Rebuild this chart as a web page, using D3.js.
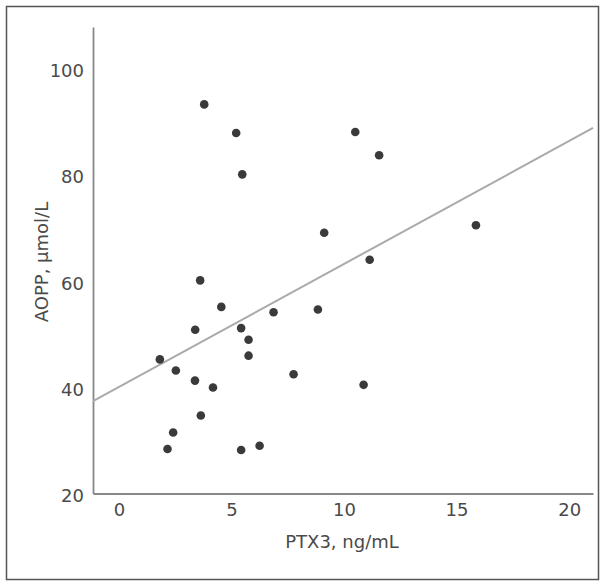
<!DOCTYPE html>
<html>
<head>
<meta charset="utf-8">
<script src="https://cdn.jsdelivr.net/npm/d3@7"></script>
<style>
  body { margin: 0; background: #fff; }
  svg { display: block; }
  text { font-family: "DejaVu Sans", sans-serif; }
</style>
</head>
<body>
<svg id="chart" width="605" height="586"></svg>
<script>
// Data
const ptx3 = [3.79, 5.21, 10.50, 11.56, 5.48, 9.12, 11.14, 3.61, 15.86, 10.87,
              4.55, 6.87, 8.84, 3.39, 5.43, 5.76, 5.76, 1.82, 2.53, 7.76,
              3.38, 4.18, 3.64, 2.41, 2.16, 5.43, 6.25];
const aopp = [93.4, 88.0, 88.2, 83.8, 80.2, 69.2, 64.1, 60.2, 70.6, 40.5,
              55.2, 54.2, 54.7, 50.9, 51.2, 49.0, 46.0, 45.3, 43.2, 42.5,
              41.3, 40.0, 34.7, 31.5, 28.4, 28.2, 29.0];
const xTicks = [0, 5, 10, 15, 20];
const yTicks = [20, 40, 60, 80, 100];
const fitLine = [40.1, 2.32]; // intercept, slope
const xLabel = "PTX3, ng/mL";
const yLabel = "AOPP, μmol/L";

const svg = d3.select("#chart");

// frame
svg.append("rect")
  .attr("x", 6.5).attr("y", 6.5).attr("width", 592).attr("height", 573)
  .attr("fill", "none").attr("stroke", "#555").attr("stroke-width", 1.5);

const x = d3.scaleLinear().domain([-1.15, 21.06]).range([93, 593]);
const y = d3.scaleLinear().domain([20, 108]).range([493.5, 27]);

const xAxis = svg.append("g")
  .attr("transform", `translate(0,${y(20)})`)
  .call(d3.axisBottom(x).tickValues(xTicks).tickSize(0).tickSizeOuter(0).tickPadding(10));
const yAxis = svg.append("g")
  .attr("transform", `translate(${x(-1.15)},0)`)
  .call(d3.axisLeft(y).tickValues(yTicks).tickSize(0).tickSizeOuter(0).tickPadding(9));

[xAxis, yAxis].forEach(g => {
  g.select(".domain").attr("stroke", "#888").attr("stroke-width", 1.8);
  g.selectAll("text").attr("font-size", 18).attr("fill", "#4a4a4a")
    .attr("font-family", "DejaVu Sans, sans-serif");
});
yAxis.selectAll("text").attr("dy", "0.42em");

// regression line
const xd = x.domain();
svg.append("line")
  .attr("x1", x(xd[0])).attr("y1", y(fitLine[0] + fitLine[1] * xd[0]))
  .attr("x2", x(xd[1])).attr("y2", y(fitLine[0] + fitLine[1] * xd[1]))
  .attr("stroke", "#aaa").attr("stroke-width", 2);

// points
svg.append("g").selectAll("circle")
  .data(ptx3.map((d, i) => [d, aopp[i]]))
  .join("circle")
  .attr("cx", d => x(d[0]))
  .attr("cy", d => y(d[1]))
  .attr("r", 4.3)
  .attr("fill", "#3a3a3a");

// axis titles
svg.append("text")
  .attr("x", 342).attr("y", 548)
  .attr("text-anchor", "middle")
  .attr("font-size", 18).attr("fill", "#4a4a4a")
  .text(xLabel);
svg.append("text")
  .attr("transform", "translate(42,262) rotate(-90)")
  .attr("text-anchor", "middle").attr("dy", "0.35em")
  .attr("font-size", 18).attr("fill", "#4a4a4a")
  .text(yLabel);
</script>
</body>
</html>
